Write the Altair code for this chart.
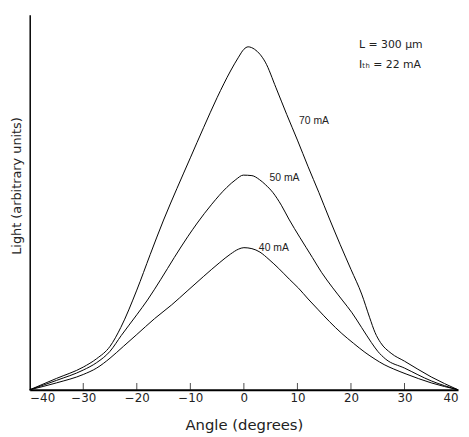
import altair as alt
import pandas as pd

# ---- data ----
angle_70 = [-40, -35, -30, -27.5, -25, -23, -20, -17.5, -15, -12.5, -10, -7.5, -5, -2.5, -1, 0, 0.8,
            2, 3, 4, 6, 8, 10, 12, 14, 16, 18, 20, 22, 23.5, 24.5, 25.5, 27.5, 30, 35, 40]
light_70 = [0, 11.5, 23, 31.5, 44, 63, 101, 137, 172, 204, 235, 266, 296, 323, 337, 345, 347.5,
            345, 340, 332, 306, 279, 253, 226, 200, 173, 147, 122, 97, 73, 58, 48, 37, 29, 13, 0]

angle_50 = [-40, -35, -30, -27.5, -25, -22.9, -20, -18, -15.5, -13, -10.5, -8.7, -6, -3.2, -1.5, -0.1,
            1.5, 2.9, 4, 5.4, 7, 8.4, 10.5, 12.8, 14.5, 16.5, 18.5, 20.2, 22, 23.8, 25, 26.5, 30, 35, 40]
light_50 = [0, 9.5, 20, 27.5, 39, 55, 76, 91, 112, 134, 155, 169, 188, 205, 213, 217.5,
            217, 213, 208, 200, 187, 173, 154, 134, 119, 104, 90, 78, 63, 48, 39, 31, 22, 9, 0]

angle_40 = [-40, -35, -30, -27.5, -25, -22.5, -20, -16.7, -13.5, -10.6, -7.5, -4.5, -2.5, -1, 0, 1.5,
            3, 4.7, 6.5, 8.5, 10.2, 12, 13.9, 16, 18.3, 20.5, 22.6, 24.5, 26.2, 28, 30.3, 35, 40]
light_40 = [0, 7, 15.5, 22, 32, 44, 56, 72, 86, 100, 115, 129, 137.5, 142.5, 144, 143,
            139.5, 132, 123, 112, 103, 92, 81, 69, 57, 47, 38, 31, 25.5, 21, 16, 7, 0]

tick_values = [-40, -30, -20, -10, 0, 10, 20, 30, 40]
inner_ticks = [-30, -20, -10, 0, 10, 20, 30]

curve_labels = ["70 mA", "50 mA", "40 mA"]
curve_label_x = [10.3, 4.8, 2.8]
curve_label_y = [272, 215, 144]

note_texts = ["L = 300 \u03bcm", "I\u209c\u2095 = 22 mA"]
note_x = [21.5, 21.5]
note_y = [349, 329]

# ---- tables ----
rows = []
for name, xs, ys in [("70 mA", angle_70, light_70), ("50 mA", angle_50, light_50), ("40 mA", angle_40, light_40)]:
    for i, (a, v) in enumerate(zip(xs, ys)):
        rows.append({"series": name, "angle": a, "light": v, "order": i})
curves = pd.DataFrame(rows)
ticks_df = pd.DataFrame({"angle": inner_ticks, "light": [0] * len(inner_ticks)})
labels_df = pd.DataFrame({"text": curve_labels, "angle": curve_label_x, "light": curve_label_y})
notes_df = pd.DataFrame({"text": note_texts, "angle": note_x, "light": note_y})

FONT = "DejaVu Sans"

x_scale = alt.Scale(domain=[-40, 40], nice=False, zero=False)
y_scale = alt.Scale(domain=[0, 380], nice=False)

x_axis = alt.Axis(values=tick_values, title="Angle (degrees)", grid=False, ticks=False,
                  domainColor="black", domainWidth=2, labelFontSize=12, labelFont=FONT,
                  labelColor="#222", labelPadding=3, titleFontSize=15, titleFont=FONT,
                  titleFontWeight="normal", titleColor="#222", titlePadding=14)
y_axis = alt.Axis(title="Light (arbitrary units)", labels=False, ticks=False, grid=False,
                  domainColor="black", domainWidth=1.5, titleFontSize=13, titleFont=FONT,
                  titleFontWeight="normal", titleColor="#222", titlePadding=6, titleY=173)

lines = alt.Chart(curves).mark_line(color="black", strokeWidth=1.0, interpolate="monotone").encode(
    x=alt.X("angle:Q", scale=x_scale, axis=x_axis),
    y=alt.Y("light:Q", scale=y_scale, axis=y_axis),
    detail="series:N",
    order="order:Q",
)

ticks = alt.Chart(ticks_df).mark_tick(color="black", size=7, thickness=1, orient="vertical", yOffset=-3.5).encode(
    x=alt.X("angle:Q", scale=x_scale),
    y=alt.Y("light:Q", scale=y_scale),
)

labels = alt.Chart(labels_df).mark_text(align="left", baseline="middle", fontSize=10.5,
                                        font="Liberation Sans", color="#222").encode(
    x=alt.X("angle:Q", scale=x_scale),
    y=alt.Y("light:Q", scale=y_scale),
    text="text:N",
)

notes = alt.Chart(notes_df).mark_text(align="left", baseline="middle", fontSize=11,
                                       font=FONT, color="#222").encode(
    x=alt.X("angle:Q", scale=x_scale),
    y=alt.Y("light:Q", scale=y_scale),
    text="text:N",
)

chart = alt.layer(lines, ticks, labels, notes).properties(
    width=434, height=380,
    padding={"left": 22, "top": 4, "right": 3, "bottom": 45},
    autosize=alt.AutoSizeParams(type="none"),
).configure_view(stroke=None)

chart.save("out.html", embed_options={"renderer": "svg", "actions": False})
